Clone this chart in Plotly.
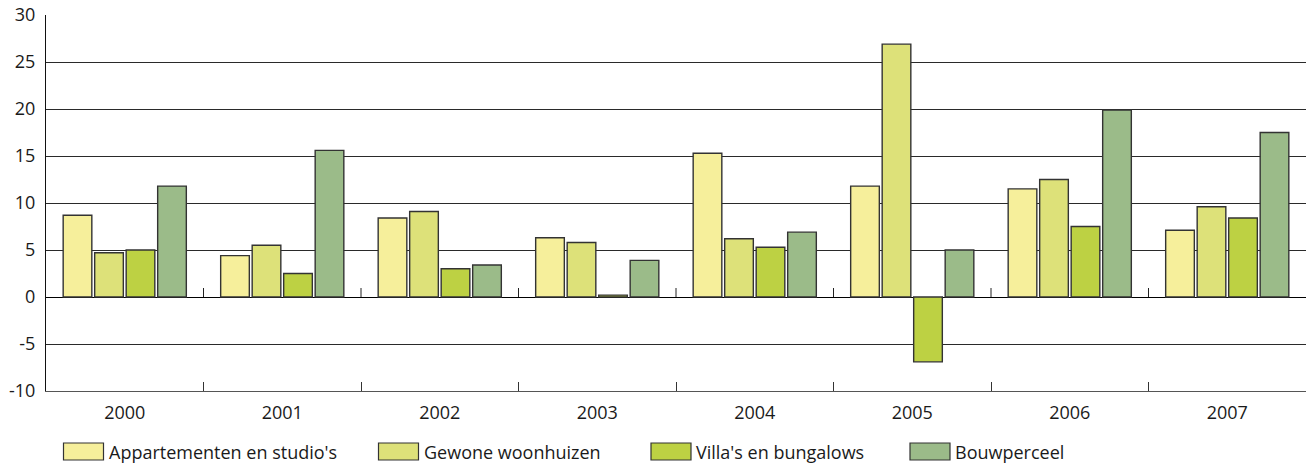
import plotly.graph_objects as go

years = ["2000", "2001", "2002", "2003", "2004", "2005", "2006", "2007"]
series_names = ["Appartementen en studio's", "Gewone woonhuizen", "Villa's en bungalows", "Bouwperceel"]
appartementen = [8.7, 4.4, 8.4, 6.3, 15.3, 11.8, 11.5, 7.1]
woonhuizen = [4.7, 5.5, 9.1, 5.8, 6.2, 26.9, 12.5, 9.6]
villas = [5.0, 2.5, 3.0, 0.2, 5.3, -6.9, 7.5, 8.4]
bouwperceel = [11.8, 15.6, 3.4, 3.9, 6.9, 5.0, 19.9, 17.5]
y_ticks = [-10, -5, 0, 5, 10, 15, 20, 25, 30]

colors = ["#F6EF9B", "#DDE179", "#BDD143", "#9BBB89"]
values = [appartementen, woonhuizen, villas, bouwperceel]

FONT = "Open Sans"
FS = 18
W, H = 1306, 463
ML, MR, MT, MB = 46, 0, 15, 72
PW, PH = W - ML - MR, H - MT - MB

fig = go.Figure()
for name, vals, col in zip(series_names, values, colors):
    fig.add_trace(go.Bar(
        x=years, y=vals, name=name,
        marker=dict(color=col, line=dict(color="#333333", width=1.4)),
        showlegend=False,
    ))

shapes = []
# small category ticks on the zero line
for i in range(len(years) - 1):
    shapes.append(dict(type="line", xref="x", yref="y", xsizemode="scaled",
                       ysizemode="pixel", yanchor=0, x0=i + 0.5, x1=i + 0.5,
                       y0=0, y1=9, line=dict(color="#222222", width=1)))

annotations = []
# manual legend (large swatches as in the reference); positions in pixels
def px_to_paper_x(px):
    return (px - ML) / PW

def px_to_paper_y(py):
    return (H - MB - py) / PH

legend_x = [63.5, 378.5, 651, 910]
for lx, name, col in zip(legend_x, series_names, colors):
    shapes.append(dict(type="rect", xref="paper", yref="paper",
                       x0=px_to_paper_x(lx), x1=px_to_paper_x(lx + 40),
                       y0=px_to_paper_y(460), y1=px_to_paper_y(443),
                       fillcolor=col, line=dict(color="#333333", width=1.2)))
    annotations.append(dict(xref="paper", yref="paper",
                            x=px_to_paper_x(lx + 43), y=px_to_paper_y(451.5),
                            xanchor="left", yanchor="middle", showarrow=False,
                            text=name, font=dict(family=FONT, size=FS, color="#1a1a1a")))

fig.update_layout(
    width=W, height=H,
    margin=dict(l=ML, r=MR, t=MT, b=MB, pad=0, autoexpand=False),
    paper_bgcolor="white", plot_bgcolor="white",
    barmode="group", bargap=0.2, bargroupgap=0.09,
    font=dict(family=FONT, size=FS, color="#1a1a1a"),
    shapes=shapes, annotations=annotations,
    showlegend=False,
)
fig.update_xaxes(
    type="category", showgrid=False, zeroline=False,
    showline=True, linecolor="#555555", linewidth=1,
    ticks="inside", ticklen=9, tickcolor="#333333", tickwidth=1,
    tickson="boundaries", ticklabelstandoff=5,
    tickfont=dict(family=FONT, size=FS, color="#1a1a1a"),
)
fig.update_yaxes(
    range=[-10, 30], tickvals=y_ticks, ticktext=[str(v) for v in y_ticks],
    showgrid=True, gridcolor="#2a2a2a", gridwidth=1,
    zeroline=True, zerolinecolor="#000000", zerolinewidth=1.2,
    showline=True, linecolor="#111111", linewidth=1.2,
    ticks="", ticklabelstandoff=6, ticklabeloverflow="allow",
    tickfont=dict(family=FONT, size=FS, color="#1a1a1a"),
)

fig.write_html(
    "out.html",
    config={"displayModeBar": False},
    post_script="document.body.style.margin='0';document.body.style.overflow='hidden';",
)
